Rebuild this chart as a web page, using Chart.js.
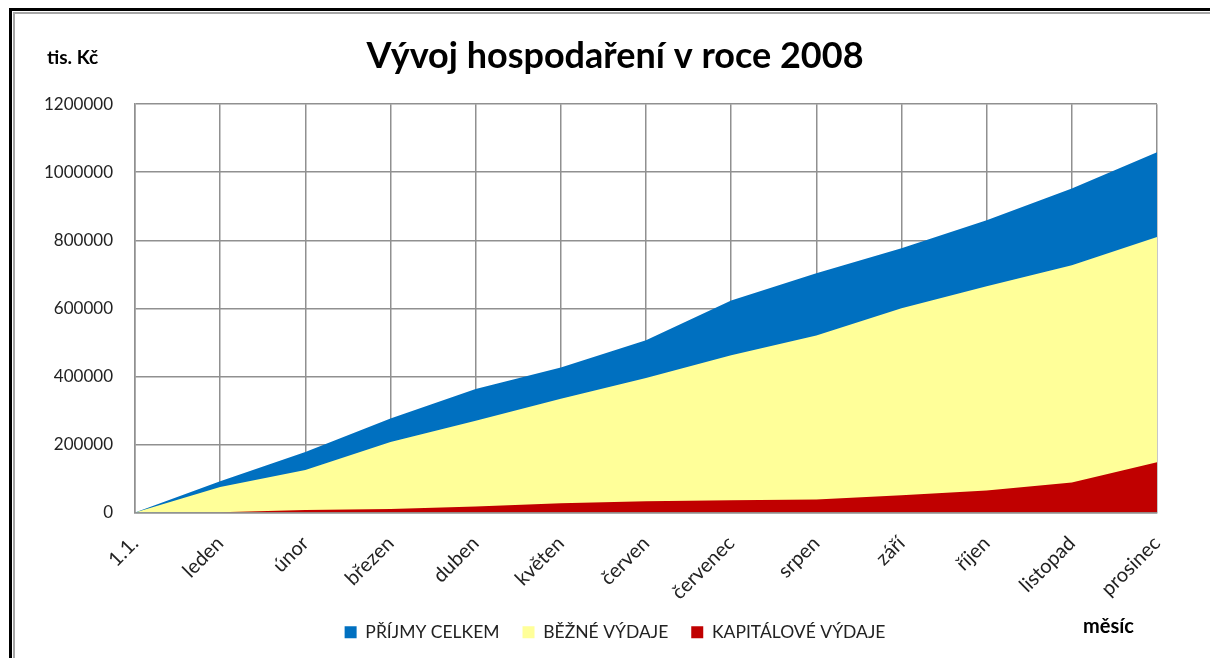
<!DOCTYPE html>
<html>
<head>
<meta charset="utf-8">
<script src="https://cdn.jsdelivr.net/npm/chart.js@4/dist/chart.umd.min.js"></script>
<style>
  body { margin: 0; background: #fff; }
  #wrap { position: relative; width: 1210px; height: 658px; overflow: hidden; }
  .frame { position: absolute; left: 9px; top: 8px; width: 1400px; height: 900px;
           border-left: 3px solid #000; border-top: 3px solid #000; }
  .frame2 { position: absolute; left: 13px; top: 12px; width: 1400px; height: 900px;
            border-left: 2px solid #a6a6a6; border-top: 2px solid #a6a6a6; }
  canvas { position: absolute; left: 0; top: 0; }
</style>
</head>
<body>
<div id="wrap">
  <div class="frame"></div>
  <div class="frame2"></div>
  <canvas id="vyvoj" width="1210" height="658"></canvas>
</div>
<script>
// data (tis. Kč)
const mesice = ['1.1.', 'leden', 'únor', 'březen', 'duben', 'květen', 'červen',
  'červenec', 'srpen', 'září', 'říjen', 'listopad', 'prosinec'];
const prijmyCelkem = [0, 92000, 178000, 276000, 363000, 426000, 506000, 623000, 703000, 777000, 859000, 952000, 1059000];
const bezneVydaje = [0, 75000, 125000, 207000, 270000, 334000, 395000, 462000, 520000, 600000, 665000, 727000, 810000];
const kapitaloveVydaje = [0, 1000, 7000, 10000, 18000, 27000, 33000, 36000, 38000, 51000, 65000, 88000, 148000];
const yTicks = [0, 200000, 400000, 600000, 800000, 1000000, 1200000];

const pismo = 'Lato, "Open Sans", sans-serif';
const mrizka = '#909090';

// popisky os (tis. Kč a měsíc)
const popiskyOs = {
  id: 'popiskyOs',
  afterDraw(chart) {
    const ctx = chart.ctx;
    ctx.save();
    ctx.fillStyle = '#000';
    ctx.font = 'bold 19px ' + pismo;
    ctx.textBaseline = 'middle';
    ctx.textAlign = 'left';
    ctx.fillText('tis. Kč', 47, 58);
    ctx.font = 'bold 20px ' + pismo;
    ctx.fillText('měsíc', 1083, 627);
    ctx.restore();
  }
};

const ctx = document.getElementById('vyvoj').getContext('2d');
const chart = new Chart(ctx, {
  type: 'line',
  data: {
    labels: mesice,
    datasets: [
      { label: 'PŘÍJMY CELKEM', data: prijmyCelkem, backgroundColor: '#0070C0', order: 3 },
      { label: 'BĚŽNÉ VÝDAJE', data: bezneVydaje, backgroundColor: '#FFFF99', order: 2 },
      { label: 'KAPITÁLOVÉ VÝDAJE', data: kapitaloveVydaje, backgroundColor: '#C00000', order: 1 }
    ].map(d => Object.assign(d, {
      fill: 'origin', borderWidth: 0, borderColor: d.backgroundColor,
      pointRadius: 0, tension: 0
    }))
  },
  options: {
    responsive: false,
    animation: false,
    layout: { padding: { left: 20, right: 0, top: 0, bottom: 7 } },
    plugins: {
      tooltip: { enabled: false },
      title: {
        display: true,
        text: 'Vývoj hospodaření v roce 2008',
        color: '#000',
        font: { family: pismo, size: 36, weight: 'bold' },
        padding: { top: 35, bottom: 26 }
      },
      legend: {
        position: 'bottom',
        labels: {
          color: '#222',
          font: { family: pismo, size: 17.5 },
          boxWidth: 12,
          boxHeight: 12,
          padding: 23,
          sort: (a, b) => a.datasetIndex - b.datasetIndex
        }
      }
    },
    scales: {
      x: {
        offset: false,
        grid: { color: mrizka, lineWidth: 1.5, drawTicks: false },
        border: { color: mrizka, width: 1.5 },
        ticks: {
          color: '#222',
          font: { family: pismo, size: 20 },
          minRotation: 45,
          maxRotation: 45,
          padding: 19,
          autoSkip: false
        },
        afterFit: s => { s.height = 88; }
      },
      y: {
        min: 0,
        max: 1200000,
        afterBuildTicks: s => { s.ticks = yTicks.map(v => ({ value: v })); },
        afterFit: s => { s.width = 115; },
        grid: { color: mrizka, lineWidth: 1.5, drawTicks: false },
        border: { color: mrizka, width: 1.5 },
        ticks: {
          color: '#222',
          font: { family: pismo, size: 17 },
          padding: 22,
          callback: v => String(v)
        }
      },
      // prázdná pravá osa jen kvůli místu vpravo od grafu
      okraj: {
        position: 'right',
        min: 0,
        max: 1,
        grid: { display: false },
        border: { display: false },
        ticks: { display: false },
        afterFit: s => { s.width = 53; }
      }
    }
  },
  plugins: [popiskyOs]
});
</script>
</body>
</html>
